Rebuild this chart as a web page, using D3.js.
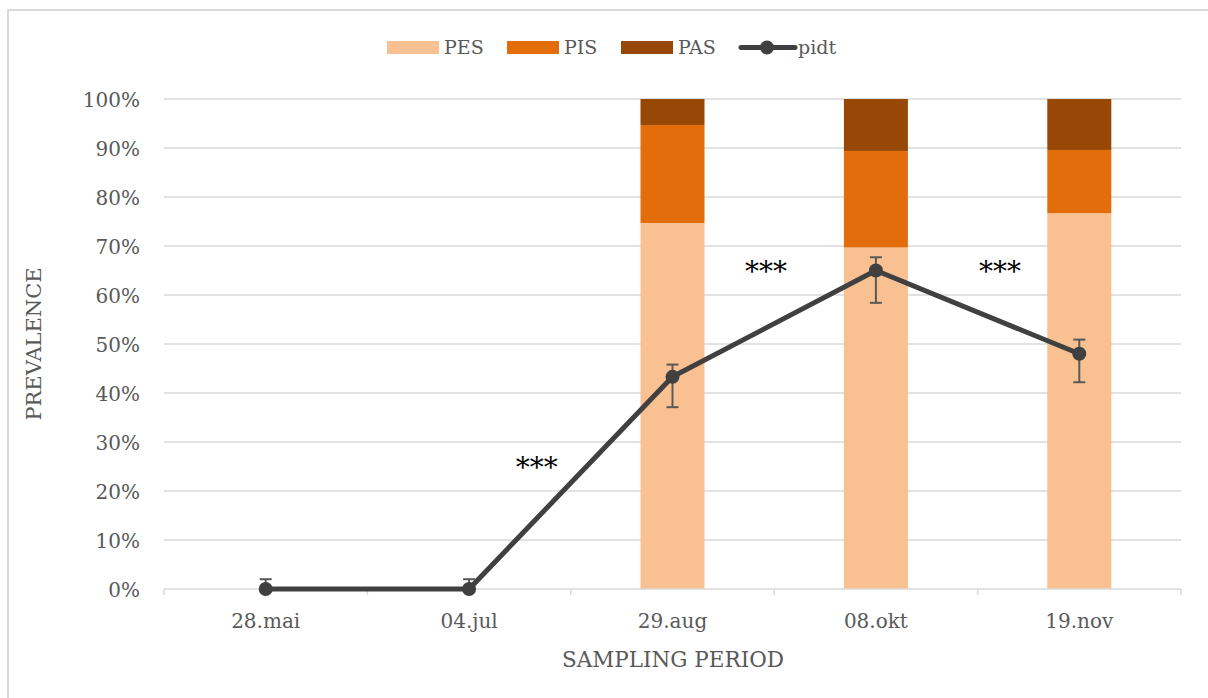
<!DOCTYPE html>
<html>
<head>
<meta charset="utf-8">
<script src="https://cdn.jsdelivr.net/npm/d3@7"></script>
<style>
  html, body { margin: 0; padding: 0; background: #fff; }
  svg { display: block; }
  text { font-family: "DejaVu Serif", "Liberation Serif", serif; }
</style>
</head>
<body>
<svg id="chart" width="1208" height="698"></svg>
<script>
// Sampling dates
const categories = ["28.mai", "04.jul", "29.aug", "08.okt", "19.nov"];
// Stacked shares (%)
const pes = [0, 0, 74.7, 69.7, 76.7];
const pis = [0, 0, 20.0, 19.7, 12.9];
const pas = [0, 0, 5.3, 10.6, 10.4];
// Prevalence line with error bars (%)
const pidt = [0, 0, 43.3, 65.0, 48.0];
const pidtLow = [0, 0, 37.1, 58.4, 42.2];
const pidtHigh = [2.0, 2.0, 45.8, 67.7, 50.9];
// Significance marks: position along category axis (index), height (%)
const sigPos = [1.333, 2.46, 3.61];
const sigY = [25.9, 66.0, 66.0];
const sigText = ["***", "***", "***"];
const yTicks = [0, 10, 20, 30, 40, 50, 60, 70, 80, 90, 100];

const svg = d3.select("#chart");
const margin = { left: 164, right: 1181, top: 99, bottom: 589 };
const textColor = "#595959";

// Outer chart frame
svg.append("rect").attr("x", 8).attr("y", 10).attr("width", 1230).attr("height", 720)
  .attr("fill", "none").attr("stroke", "#d9d9d9").attr("stroke-width", 2);

const x = d3.scaleBand().domain(categories).range([margin.left, margin.right]);
const y = d3.scaleLinear().domain([0, 100]).range([margin.bottom, margin.top]);
const xc = i => margin.left + x.step() * (i + 0.5);

// Gridlines
svg.append("g").selectAll("line").data(yTicks.filter(d => d > 0)).join("line")
  .attr("x1", margin.left).attr("x2", margin.right)
  .attr("y1", d => y(d)).attr("y2", d => y(d))
  .attr("stroke", "#d9d9d9").attr("stroke-width", 1.5);

// Y axis labels
const yAxis = d3.axisLeft(y).tickValues(yTicks).tickFormat(d => d + "%").tickSize(0).tickPadding(0);
const gy = svg.append("g").attr("transform", `translate(140,0)`).call(yAxis);
gy.select(".domain").remove();
gy.selectAll("text").attr("font-size", 20).attr("fill", textColor)
  .attr("font-family", "DejaVu Serif, Liberation Serif, serif").attr("dy", "0.35em");

// Stacked bars
const rows = categories.map((c, i) => ({ cat: c, PES: pes[i], PIS: pis[i], PAS: pas[i] }));
const keys = ["PES", "PIS", "PAS"];
const colors = { PES: "#F9C191", PIS: "#E36C0B", PAS: "#974806" };
const stack = d3.stack().keys(keys)(rows);
const barW = 64;
svg.append("g").selectAll("g").data(stack).join("g")
  .attr("fill", s => colors[s.key])
  .selectAll("rect").data(s => s.filter(d => d[1] - d[0] > 0)).join("rect")
  .attr("x", d => x(d.data.cat) + x.bandwidth() / 2 - barW / 2)
  .attr("width", barW)
  .attr("y", d => y(d[1]))
  .attr("height", d => y(d[0]) - y(d[1]));

// X axis line and ticks
svg.append("line").attr("x1", margin.left).attr("x2", margin.right)
  .attr("y1", y(0)).attr("y2", y(0)).attr("stroke", "#d9d9d9").attr("stroke-width", 1.5);
const bounds = d3.range(categories.length + 1).map(i => margin.left + x.step() * i);
svg.append("g").selectAll("line").data(bounds).join("line")
  .attr("x1", d => d).attr("x2", d => d)
  .attr("y1", y(0)).attr("y2", y(0) + 6)
  .attr("stroke", "#d9d9d9").attr("stroke-width", 1.5);
svg.append("g").selectAll("text").data(categories).join("text")
  .attr("x", (d, i) => xc(i)).attr("y", 628)
  .attr("text-anchor", "middle").attr("font-size", 20).attr("fill", textColor)
  .text(d => d);

// Error bars
const eg = svg.append("g").attr("stroke", "#595959").attr("stroke-width", 2);
categories.forEach((c, i) => {
  eg.append("line").attr("x1", xc(i)).attr("x2", xc(i))
    .attr("y1", y(pidtLow[i])).attr("y2", y(pidtHigh[i]));
  eg.append("line").attr("x1", xc(i) - 6).attr("x2", xc(i) + 6)
    .attr("y1", y(pidtHigh[i])).attr("y2", y(pidtHigh[i]));
  if (pidtLow[i] > 0) {
    eg.append("line").attr("x1", xc(i) - 6).attr("x2", xc(i) + 6)
      .attr("y1", y(pidtLow[i])).attr("y2", y(pidtLow[i]));
  }
});

// pidt line
const line = d3.line().x((d, i) => xc(i)).y(d => y(d));
svg.append("path").datum(pidt).attr("d", line)
  .attr("fill", "none").attr("stroke", "#404040").attr("stroke-width", 5)
  .attr("stroke-linejoin", "round");
svg.append("g").selectAll("circle").data(pidt).join("circle")
  .attr("cx", (d, i) => xc(i)).attr("cy", d => y(d)).attr("r", 7)
  .attr("fill", "#404040");

// Significance marks
svg.append("g").selectAll("text").data(sigText).join("text")
  .attr("x", (d, i) => xc(sigPos[i])).attr("y", (d, i) => y(sigY[i]) + 15)
  .attr("text-anchor", "middle").attr("font-size", 28).attr("fill", "#000")
  .attr("font-family", "Liberation Sans, sans-serif")
  .text(d => d);

// Axis titles
svg.append("text").attr("x", (margin.left + margin.right) / 2 + 0.5).attr("y", 667)
  .attr("text-anchor", "middle").attr("font-size", 21.5).attr("fill", textColor)
  .text("SAMPLING PERIOD");
svg.append("text").attr("transform", `translate(41,${(margin.top + margin.bottom) / 2}) rotate(-90)`)
  .attr("text-anchor", "middle").attr("font-size", 21).attr("fill", textColor)
  .text("PREVALENCE");

// Legend
const leg = svg.append("g");
const legItems = [
  { key: "PES", x: 387 }, { key: "PIS", x: 507 }, { key: "PAS", x: 621 }
];
legItems.forEach(it => {
  leg.append("rect").attr("x", it.x).attr("y", 41).attr("width", 52).attr("height", 13)
    .attr("fill", colors[it.key]);
  leg.append("text").attr("x", it.x + 57).attr("y", 54).attr("font-size", 19)
    .attr("fill", textColor).text(it.key);
});
leg.append("line").attr("x1", 741).attr("x2", 795).attr("y1", 47.5).attr("y2", 47.5)
  .attr("stroke", "#404040").attr("stroke-width", 5).attr("stroke-linecap", "round");
leg.append("circle").attr("cx", 767).attr("cy", 47.5).attr("r", 7).attr("fill", "#404040");
leg.append("text").attr("x", 798).attr("y", 54).attr("font-size", 19)
  .attr("fill", textColor).text("pidt");
</script>
</body>
</html>
